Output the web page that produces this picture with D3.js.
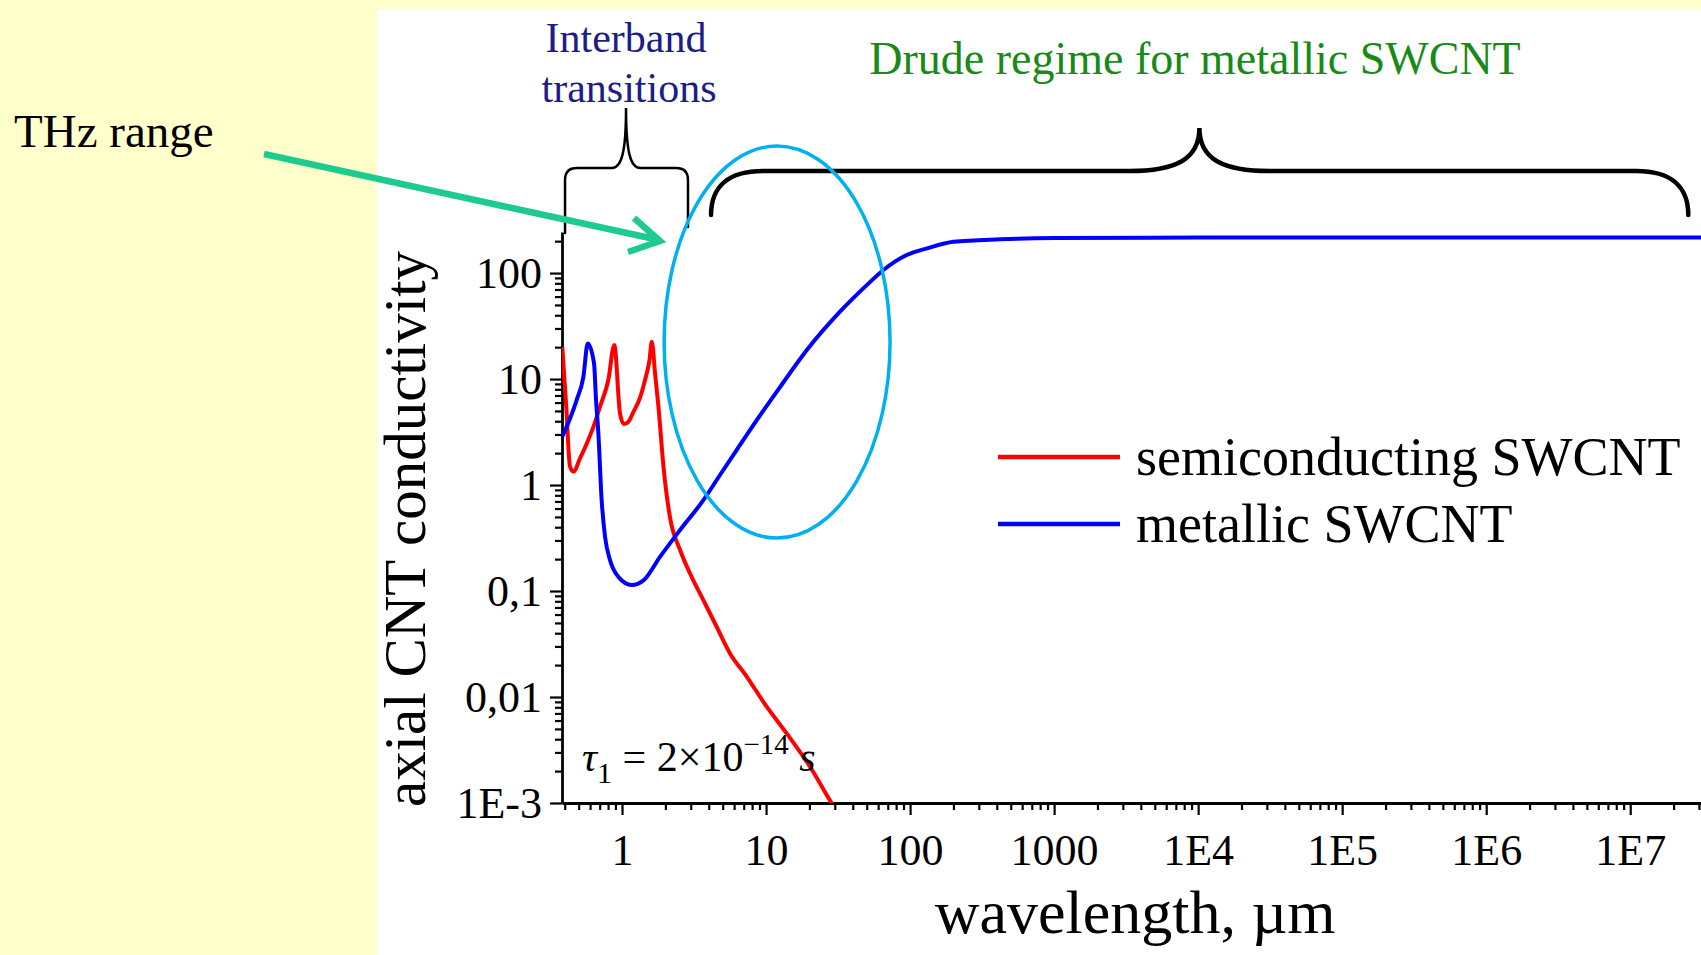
<!DOCTYPE html>
<html>
<head>
<meta charset="utf-8">
<script src="https://cdn.jsdelivr.net/npm/d3@7"></script>
<style>
  body { margin: 0; background: #ffffcc; }
  svg { display: block; }
  text { font-family: "Liberation Serif", "Times New Roman", serif; }
</style>
</head>
<body>
<svg width="1701" height="955"></svg>
<script>
// semiconducting SWCNT, wavelength (um) vs conductivity
var semiWl  = [0.385, 0.41, 0.435, 0.46, 0.511, 0.569, 0.64, 0.703, 0.803, 0.884, 0.968, 1.03, 1.106, 1.2, 1.33, 1.45, 1.55, 1.61, 1.695, 1.79, 1.94, 2.15, 2.53, 2.96, 3.67, 4.54, 5.62, 7.34, 10.1, 13.9, 20.2, 28.5, 40];
var semiVal = [20, 5.5, 1.5, 1.34, 1.79, 2.47, 3.7, 5.48, 9.8, 21, 4.74, 3.76, 3.95, 4.9, 6.6, 10, 15, 22.5, 11.3, 5.48, 1.49, 0.5, 0.244, 0.147, 0.082, 0.046, 0.0258, 0.0156, 0.0081, 0.00454, 0.0022, 0.001, 0.0005];

// metallic SWCNT
var metWl  = [0.385, 0.484, 0.539, 0.578, 0.639, 0.66, 0.685, 0.722, 0.762, 0.825, 0.943, 1.17, 1.41, 1.84, 2.53, 3.67, 4.8, 6.26, 8.62, 12.5, 19.2, 32.6, 50, 65.3, 94.8, 131, 200, 422, 1000, 1e4, 1e5, 1e6, 1e7, 3.1e7];
var metVal = [2.86, 6.34, 10.5, 21.7, 14.1, 6.34, 3.07, 0.72, 0.326, 0.196, 0.136, 0.114, 0.126, 0.211, 0.376, 0.72, 1.25, 2.15, 4.1, 8.4, 18.8, 43.2, 77, 107, 148, 171, 197, 208, 214, 216, 216, 216, 216, 216];

var xTicks = [1, 10, 100, 1000, 1e4, 1e5, 1e6, 1e7];
var xTickLabels = ["1", "10", "100", "1000", "1E4", "1E5", "1E6", "1E7"];
var yTicks = [0.001, 0.01, 0.1, 1, 10, 100];
var yTickLabels = ["1E-3", "0,01", "0,1", "1", "10", "100"];

var seriesNames = ["semiconducting SWCNT", "metallic SWCNT"];
var seriesColors = ["#ff0000", "#0000ff"];

var svg = d3.select("svg");

// chart picture pasted on the yellow slide
svg.append("rect").attr("x", 377).attr("y", 9).attr("width", 1701 - 377).attr("height", 955 - 9).attr("fill", "#ffffff");

var x = d3.scaleLog().domain([0.383, 3.1e7]).range([562, 1701]);
var y = d3.scaleLog().domain([0.001, 244]).range([803, 232]);

function minors(lo, hi, scale) {
  var out = [];
  for (var d = lo; d <= hi; d++) {
    for (var k = 2; k <= 9; k++) {
      var v = k * Math.pow(10, d);
      if (v >= scale.domain()[0] && v <= scale.domain()[1]) out.push(v);
    }
  }
  return out;
}

// axes
var gx = svg.append("g").attr("transform", "translate(0,803)");
gx.call(d3.axisBottom(x).tickValues(minors(-1, 7, x)).tickSize(7).tickSizeOuter(0).tickFormat(""));
gx.select(".domain").remove();
var gx2 = svg.append("g").attr("transform", "translate(0,803)");
gx2.call(d3.axisBottom(x).tickValues(xTicks).tickSize(12).tickSizeOuter(0)
  .tickFormat(function(d, i){ return xTickLabels[i]; }));

var gy = svg.append("g").attr("transform", "translate(562,0)");
gy.call(d3.axisLeft(y).tickValues(minors(-3, 2, y)).tickSize(7).tickSizeOuter(0).tickFormat(""));
gy.select(".domain").remove();
var gy2 = svg.append("g").attr("transform", "translate(562,0)");
gy2.call(d3.axisLeft(y).tickValues(yTicks).tickSize(12).tickSizeOuter(0).tickPadding(8)
  .tickFormat(function(d, i){ return yTickLabels[i]; }));

svg.selectAll(".tick line").attr("stroke", "#000").attr("stroke-width", 2.2);
svg.selectAll(".domain").attr("stroke", "#000").attr("stroke-width", 2.8);
svg.selectAll(".tick text").attr("font-family", "Liberation Serif").attr("font-size", 44).attr("fill", "#000");
gx2.selectAll(".tick text").attr("y", 62).attr("dy", 0);

// axis titles
svg.append("text").attr("x", 1135).attr("y", 933).attr("text-anchor", "middle")
  .attr("font-size", 62).text("wavelength, \u00b5m");
svg.append("text").attr("transform", "translate(425,529) rotate(-90)").attr("text-anchor", "middle")
  .attr("font-size", 59).text("axial CNT conductivity");

// curves
svg.append("clipPath").attr("id", "plot").append("rect")
  .attr("x", 562).attr("y", 0).attr("width", 1701 - 562).attr("height", 803);

var line = d3.line().x(function(d){ return x(d[0]); }).y(function(d){ return y(d[1]); }).curve(d3.curveMonotoneX);
var semi = d3.zip(semiWl, semiVal);
var met = d3.zip(metWl, metVal);

svg.append("path").datum(semi).attr("d", line).attr("clip-path", "url(#plot)")
  .attr("fill", "none").attr("stroke", seriesColors[0]).attr("stroke-width", 4);
svg.append("path").datum(met).attr("d", line).attr("clip-path", "url(#plot)")
  .attr("fill", "none").attr("stroke", seriesColors[1]).attr("stroke-width", 4);

// legend
var leg = svg.selectAll(".leg").data(seriesNames).enter().append("g").attr("class", "leg")
  .attr("transform", function(d, i){ return "translate(998," + (457 + 67 * i) + ")"; });
leg.append("line").attr("x1", 0).attr("x2", 122).attr("y1", 0).attr("y2", 0)
  .attr("stroke", function(d, i){ return seriesColors[i]; }).attr("stroke-width", 4.5);
leg.append("text").attr("x", 138).attr("y", 18).attr("font-size", 54).attr("fill", "#000").text(function(d){ return d; });

// tau annotation
var tau = svg.append("text").attr("x", 582).attr("y", 771).attr("font-size", 42).attr("fill", "#000");
tau.append("tspan").attr("font-style", "italic").text("\u03c4");
tau.append("tspan").attr("font-size", 30).attr("dy", 12).text("1");
tau.append("tspan").attr("dy", -12).text(" = 2\u00d710");
tau.append("tspan").attr("font-size", 29).attr("dy", -17).text("\u221214");
tau.append("tspan").attr("dy", 17).attr("font-style", "italic").text(" s");

// braces
svg.append("path").attr("fill", "none").attr("stroke", "#000").attr("stroke-width", 2.5).attr("stroke-linecap", "round")
  .attr("d", "M" + x(0.402) + ",233 L" + x(0.402) + ",180 Q" + x(0.402) + ",168 " + (x(0.402) + 12) + ",168 L612,168 C622,168 " +
    x(1.066) + ",150 " + x(1.066) + ",108 C" + x(1.066) + ",150 630,168 640,168 L" + (x(2.87) - 12) + ",168 Q" + x(2.87) + ",168 " +
    x(2.87) + ",180 L" + x(2.87) + ",227");

var bl = x(4.15), bm = x(1.02e4), br = x(2.53e7);
svg.append("path").attr("fill", "none").attr("stroke", "#000").attr("stroke-width", 4.5).attr("stroke-linecap", "round")
  .attr("d", "M" + bl + ",215 C" + bl + ",186 " + (bl + 18) + ",171 " + (bl + 52) + ",171 L" + (bm - 70) + ",171 C" + (bm - 25) + ",171 " +
    bm + ",160 " + bm + ",128 C" + bm + ",160 " + (bm + 25) + ",171 " + (bm + 70) + ",171 L" + (br - 52) + ",171 C" + (br - 18) + ",171 " +
    br + ",186 " + br + ",215");

svg.append("text").attr("x", 626).attr("y", 52).attr("text-anchor", "middle").attr("font-size", 42).attr("fill", "#1c1c8a").text("Interband");
svg.append("text").attr("x", 629).attr("y", 102).attr("text-anchor", "middle").attr("font-size", 42).attr("fill", "#1c1c8a").text("transitions");
svg.append("text").attr("x", 1195).attr("y", 74).attr("text-anchor", "middle").attr("font-size", 46).attr("fill", "#178a17").text("Drude regime for metallic SWCNT");

// THz ellipse
var ex0 = x(1.96), ex1 = x(72.6), ey0 = y(1580), ey1 = y(0.316);
svg.append("ellipse").attr("cx", (ex0 + ex1) / 2).attr("cy", (ey0 + ey1) / 2)
  .attr("rx", (ex1 - ex0) / 2).attr("ry", (ey1 - ey0) / 2)
  .attr("fill", "none").attr("stroke", "#00b0f0").attr("stroke-width", 3.5);

// THz label and arrow on the slide
svg.append("text").attr("x", 14).attr("y", 147).attr("font-size", 47).attr("fill", "#000").text("THz range");
svg.append("path").attr("fill", "none").attr("stroke", "#1dcb8e").attr("stroke-width", 6.5).attr("stroke-linejoin", "miter")
  .attr("d", "M264,154 L659,240 M634,218 L660,241 L628,252");
</script>
</body>
</html>
